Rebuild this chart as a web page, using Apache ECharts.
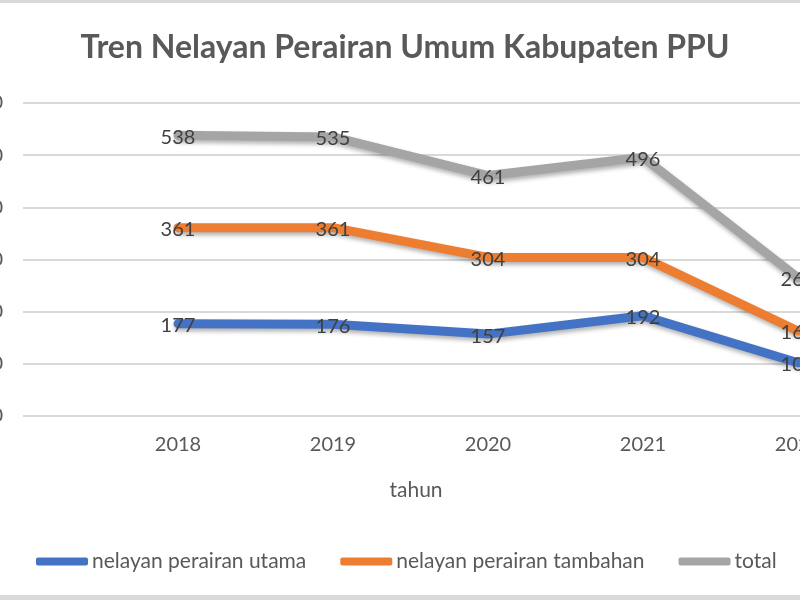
<!DOCTYPE html>
<html>
<head>
<meta charset="utf-8">
<script src="https://cdn.jsdelivr.net/npm/echarts@6/dist/echarts.min.js"></script>
<style>
html,body{margin:0;padding:0;overflow:hidden;background:#fff;width:800px;height:600px;}
#c{position:absolute;left:0;top:0;width:1000px;height:600px;}
</style>
</head>
<body>
<div id="c"></div>
<script>
var years = [2018, 2019, 2020, 2021, 2022];
var utama = [177, 176, 157, 192, 102];
var tambahan = [361, 361, 304, 304, 163];
var total = [538, 535, 461, 496, 265];
var seriesNames = ['nelayan perairan utama', 'nelayan perairan tambahan', 'total'];
var colors = ['#4472C4', '#ED7D31', '#A5A5A5'];
var titleText = 'Tren Nelayan Perairan Umum Kabupaten PPU';
var xAxisTitle = 'tahun';

var FONT = 'Lato';
function pairs(vals){ return vals.map(function(v,i){ return [years[i], v]; }); }

function mk(name, vals, color){
  return {
    name: name, type: 'line', data: pairs(vals),
    symbol: 'circle', symbolSize: 1, showSymbol: true,
    itemStyle: {color: color},
    lineStyle: {color: color, width: 9, cap: 'round', join: 'round',
      shadowColor: 'rgba(0,0,0,0.3)', shadowBlur: 4, shadowOffsetX: 1, shadowOffsetY: 3},
    label: {show: true, position: 'inside', color: '#404040', fontSize: 20, fontFamily: FONT,
      offset: [0, 2], formatter: function(p){ return p.value[1]; }},
    emphasis: {disabled: true},
    animation: false
  };
}

var chart = echarts.init(document.getElementById('c'), null, {renderer: 'canvas'});
chart.setOption({
  animation: false,
  backgroundColor: '#ffffff',
  title: [
    {text: titleText, left: 400, top: 27, textAlign: 'center',
      textStyle: {fontFamily: FONT, fontSize: 32, fontWeight: 'bold', color: '#595959'}},
    {text: xAxisTitle, left: 411, top: 475, textAlign: 'center',
      textStyle: {fontFamily: FONT, fontSize: 21, fontWeight: 'normal', color: '#595959'}}
  ],
  legend: {
    left: 31, top: 546, itemWidth: 52, itemHeight: 8, itemGap: 34, icon: 'roundRect',
    textStyle: {fontFamily: FONT, fontSize: 21, color: '#595959', padding: [0,0,0,-1]},
    data: seriesNames
  },
  grid: {left: 23, top: 103, width: 930, height: 313, containLabel: false, outerBoundsMode: 'none'},
  xAxis: {
    type: 'value', min: 2017, max: 2023, interval: 1,
    axisLine: {show: false}, axisTick: {show: false}, splitLine: {show: false},
    axisLabel: {showMinLabel: false, showMaxLabel: false, margin: 19,
      fontFamily: FONT, fontSize: 20, color: '#595959',
      formatter: function(v){ return years.indexOf(v) >= 0 ? String(v) : ''; }}
  },
  yAxis: {
    type: 'value', min: 0, max: 600, interval: 100,
    axisLine: {show: false}, axisTick: {show: false},
    splitLine: {lineStyle: {color: '#d9d9d9', width: 2}},
    axisLabel: {margin: 20, fontFamily: FONT, fontSize: 20, color: '#595959'}
  },
  graphic: [
    {type: 'rect', left: 0, top: 0, shape: {width: 800, height: 3}, style: {fill: '#d9d9d9'}, silent: true},
    {type: 'rect', left: 0, top: 595, shape: {width: 800, height: 5}, style: {fill: '#d9d9d9'}, silent: true}
  ],
  series: [
    mk(seriesNames[0], utama, colors[0]),
    mk(seriesNames[1], tambahan, colors[1]),
    mk(seriesNames[2], total, colors[2])
  ]
});
</script>
</body>
</html>
